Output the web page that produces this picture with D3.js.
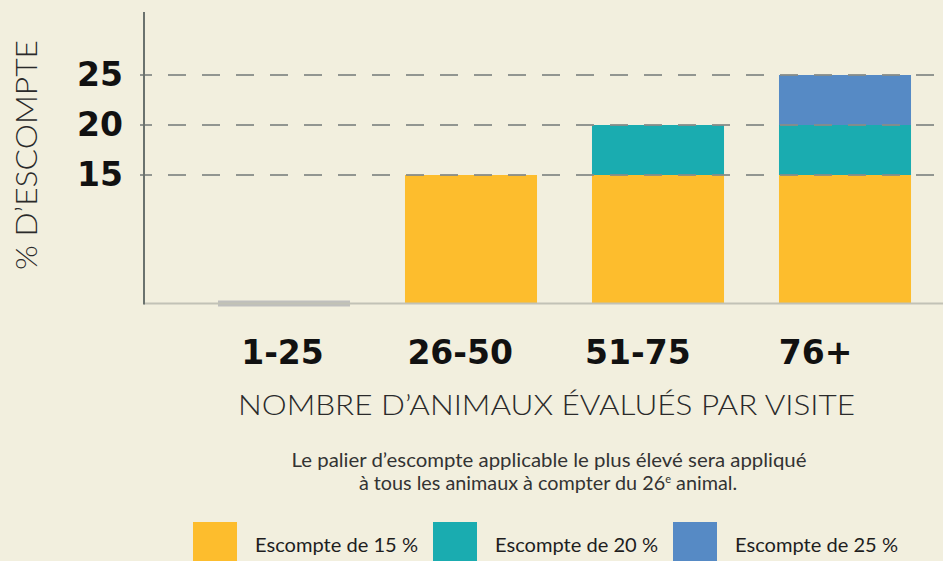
<!DOCTYPE html>
<html>
<head>
<meta charset="utf-8">
<script src="https://cdn.jsdelivr.net/npm/d3@7/dist/d3.min.js"></script>
<style>
  html, body { margin: 0; padding: 0; background: #f2efde; }
  svg { display: block; }
</style>
</head>
<body>
<svg id="chart" width="943" height="561"></svg>
<script>
// ---- data ----
const categories = ["1-25", "26-50", "51-75", "76+"];
const tier15 = [0, 15, 15, 15];
const tier20 = [0, 0, 5, 5];
const tier25 = [0, 0, 0, 5];
const yTicks = [15, 20, 25];
const seriesKeys = ["t15", "t20", "t25"];
const legendLabels = ["Escompte de 15 %", "Escompte de 20 %", "Escompte de 25 %"];
const yTitle = "% D’ESCOMPTE";
const xTitle = "NOMBRE D’ANIMAUX ÉVALUÉS PAR VISITE";
const noteLine1 = "Le palier d’escompte applicable le plus élevé sera appliqué";
const noteLine2a = "à tous les animaux à compter du 26";
const noteLine2b = "e";
const noteLine2c = " animal.";

const colors = { t15: "#fdbd2d", t20: "#1aacb0", t25: "#568ac5" };
const zeroColor = "#bfbfbd";

const rows = categories.map((c, i) => ({ cat: c, t15: tier15[i], t20: tier20[i], t25: tier25[i] }));
const stacked = d3.stack().keys(seriesKeys)(rows);

const svg = d3.select("#chart");

const x = d3.scaleBand().domain(categories).range([190.5, 938.5]).paddingInner(0.294).paddingOuter(0.147);
const xLab = d3.scalePoint().domain(categories).range([282.5, 815.5]);
const y = d3.scaleLinear().domain([2.2, 31.3]).range([303, 12]).clamp(true);

const axisX = 144;
const baseY = y(2.2);

// bars
const layer = svg.append("g");
stacked.forEach(s => {
  layer.append("g").selectAll("rect")
    .data(s.filter(d => d[1] - d[0] > 0))
    .join("rect")
    .attr("x", d => x(d.data.cat))
    .attr("width", x.bandwidth())
    .attr("y", d => y(d[1]))
    .attr("height", d => y(d[0]) - y(d[1]))
    .attr("fill", colors[s.key]);
});
// zero-value markers
layer.append("g").selectAll("rect")
  .data(rows.filter(r => r.t15 + r.t20 + r.t25 === 0))
  .join("rect")
  .attr("x", d => x(d.cat))
  .attr("width", x.bandwidth())
  .attr("y", baseY - 2.5)
  .attr("height", 6)
  .attr("fill", zeroColor);

// gridlines (dashed, over bars)
svg.append("g").selectAll("line")
  .data(yTicks)
  .join("line")
  .attr("x1", 140).attr("x2", 943)
  .attr("y1", d => y(d)).attr("y2", d => y(d))
  .attr("stroke", "#878c88")
  .attr("stroke-opacity", 0.9)
  .attr("stroke-width", 2)
  .attr("stroke-dasharray", "18,16")
  .attr("stroke-dashoffset", 6);

// baseline
svg.append("line")
  .attr("x1", axisX).attr("x2", 943)
  .attr("y1", baseY + 0.5).attr("y2", baseY + 0.5)
  .attr("stroke", "#c2c2b6").attr("stroke-width", 2);

// y axis line
svg.append("line")
  .attr("x1", axisX).attr("x2", axisX)
  .attr("y1", 12).attr("y2", baseY + 1.5)
  .attr("stroke", "#6b726e").attr("stroke-width", 2);

// y tick labels
svg.append("g").selectAll("text")
  .data(yTicks)
  .join("text")
  .attr("x", 123)
  .attr("y", d => y(d))
  .attr("dy", "0.33em")
  .attr("text-anchor", "end")
  .attr("font-family", "DejaVu Sans")
  .attr("font-weight", "bold")
  .attr("font-size", 33)
  .attr("fill", "#111")
  .text(d => d);

// x tick labels
svg.append("g").selectAll("text")
  .data(categories)
  .join("text")
  .attr("x", d => xLab(d))
  .attr("y", 364)
  .attr("text-anchor", "middle")
  .attr("font-family", "DejaVu Sans")
  .attr("font-weight", "bold")
  .attr("font-size", 33)
  .attr("fill", "#111")
  .text(d => d);

// x title
svg.append("text")
  .attr("x", 546.5).attr("y", 415)
  .attr("text-anchor", "middle")
  .attr("font-family", "Lato")
  .attr("font-weight", 300)
  .attr("font-size", 28)
  .attr("fill", "#2a2a2a")
  .attr("textLength", 617)
  .attr("lengthAdjust", "spacingAndGlyphs")
  .text(xTitle);

// y title
svg.append("text")
  .attr("transform", "translate(37,155) rotate(-90)")
  .attr("text-anchor", "middle")
  .attr("font-family", "Lato")
  .attr("font-weight", 300)
  .attr("font-size", 30)
  .attr("fill", "#2a2a2a")
  .attr("textLength", 230)
  .attr("lengthAdjust", "spacingAndGlyphs")
  .text(yTitle);

// note
const note = svg.append("g").attr("font-family", "Lato").attr("font-size", 19.8).attr("fill", "#333").attr("text-anchor", "middle");
note.append("text").attr("x", 549).attr("y", 467)
  .attr("textLength", 515).attr("lengthAdjust", "spacingAndGlyphs")
  .text(noteLine1);
const l2 = note.append("text").attr("x", 548).attr("y", 490);
l2.append("tspan").text(noteLine2a);
l2.append("tspan").attr("font-size", 11).attr("dy", -7).text(noteLine2b);
l2.append("tspan").attr("dy", 7).text(noteLine2c);

// legend
const lg = svg.append("g").selectAll("g")
  .data(seriesKeys)
  .join("g")
  .attr("transform", (d, i) => `translate(${193 + i * 240},522)`);
lg.append("rect").attr("width", 44).attr("height", 44).attr("fill", d => colors[d]);
lg.append("text")
  .attr("x", 62).attr("y", 30)
  .attr("font-family", "Lato")
  .attr("font-size", 20)
  .attr("fill", "#1e1e1e")
  .attr("textLength", 163)
  .attr("lengthAdjust", "spacingAndGlyphs")
  .text((d, i) => legendLabels[i]);
</script>
</body>
</html>
